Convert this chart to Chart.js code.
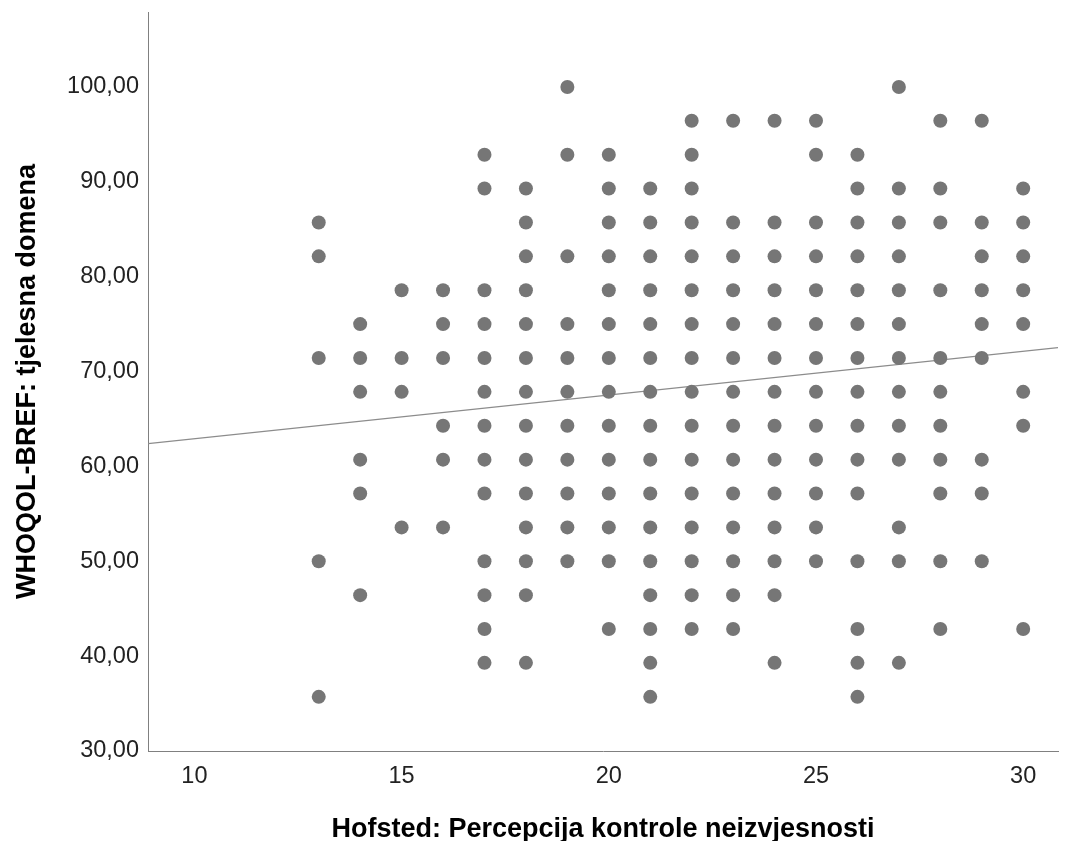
<!DOCTYPE html>
<html>
<head>
<meta charset="utf-8">
<script src="https://cdn.jsdelivr.net/npm/chart.js@4.4.1/dist/chart.umd.min.js"></script>
<style>
  html, body { margin: 0; padding: 0; background: #fff; }
  #wrap { width: 1065px; height: 841px; }
</style>
</head>
<body>
<div id="wrap"><canvas id="scatterChart" width="1065" height="841"></canvas></div>
<script>
// Hofsted score on x, WHOQOL-BREF (tjelesna domena) values seen at each x
const xValues = [13, 14, 15, 16, 17, 18, 19, 20, 21, 22, 23, 24, 25, 26, 27, 28, 29, 30];

const yAt13 = [85.71, 82.14, 71.43, 50, 35.71];
const yAt14 = [75, 71.43, 67.86, 60.71, 57.14, 46.43];
const yAt15 = [78.57, 71.43, 67.86, 53.57];
const yAt16 = [78.57, 75, 71.43, 64.29, 60.71, 53.57];
const yAt17 = [92.86, 89.29, 78.57, 75, 71.43, 67.86, 64.29, 60.71, 57.14, 50, 46.43, 42.86, 39.29];
const yAt18 = [89.29, 85.71, 82.14, 78.57, 75, 71.43, 67.86, 64.29, 60.71, 57.14, 53.57, 50, 46.43, 39.29];
const yAt19 = [100, 92.86, 82.14, 75, 71.43, 67.86, 64.29, 60.71, 57.14, 53.57, 50];
const yAt20 = [92.86, 89.29, 85.71, 82.14, 78.57, 75, 71.43, 67.86, 64.29, 60.71, 57.14, 53.57, 50, 42.86];
const yAt21 = [89.29, 85.71, 82.14, 78.57, 75, 71.43, 67.86, 64.29, 60.71, 57.14, 53.57, 50, 46.43, 42.86, 39.29, 35.71];
const yAt22 = [96.43, 92.86, 89.29, 85.71, 82.14, 78.57, 75, 71.43, 67.86, 64.29, 60.71, 57.14, 53.57, 50, 46.43, 42.86];
const yAt23 = [96.43, 85.71, 82.14, 78.57, 75, 71.43, 67.86, 64.29, 60.71, 57.14, 53.57, 50, 46.43, 42.86];
const yAt24 = [96.43, 85.71, 82.14, 78.57, 75, 71.43, 67.86, 64.29, 60.71, 57.14, 53.57, 50, 46.43, 39.29];
const yAt25 = [96.43, 92.86, 85.71, 82.14, 78.57, 75, 71.43, 67.86, 64.29, 60.71, 57.14, 53.57, 50];
const yAt26 = [92.86, 89.29, 85.71, 82.14, 78.57, 75, 71.43, 67.86, 64.29, 60.71, 57.14, 50, 42.86, 39.29, 35.71];
const yAt27 = [100, 89.29, 85.71, 82.14, 78.57, 75, 71.43, 67.86, 64.29, 60.71, 53.57, 50, 39.29];
const yAt28 = [96.43, 89.29, 85.71, 78.57, 71.43, 67.86, 64.29, 60.71, 57.14, 50, 42.86];
const yAt29 = [96.43, 85.71, 82.14, 78.57, 75, 71.43, 60.71, 57.14, 50];
const yAt30 = [89.29, 85.71, 82.14, 78.57, 75, 67.86, 64.29, 42.86];

const yColumns = [yAt13, yAt14, yAt15, yAt16, yAt17, yAt18, yAt19, yAt20, yAt21,
                  yAt22, yAt23, yAt24, yAt25, yAt26, yAt27, yAt28, yAt29, yAt30];

const xTicks = [10, 15, 20, 25, 30];
const yTicks = [30, 40, 50, 60, 70, 80, 90, 100];

// axis range and fit line
const xMin = 8.88, xMax = 30.84;
const yMin = 30, yMax = 107.9;
const fitIntercept = 58.3;
const fitSlope = 0.461;

const points = [];
xValues.forEach((x, i) => {
    yColumns[i].forEach(y => points.push({ x: x, y: y }));
});

const fitLine = [xMin, xMax].map(x => ({ x: x, y: fitIntercept + fitSlope * x }));

const tickFont = { family: "'Liberation Sans', Arial", size: 23.5 };
const titleFont = { family: "'Liberation Sans', Arial", size: 27, weight: 'bold', lineHeight: 1.2 };

new Chart(document.getElementById("scatterChart"), {
    type: "scatter",
    data: {
        datasets: [{
            label: "Tjelesna domena",
            data: points,
            backgroundColor: "#767676",
            borderWidth: 0,
            pointRadius: 7,
            pointHoverRadius: 7
        }, {
            type: "line",
            label: "Fit",
            data: fitLine,
            borderColor: "#8c8c8c",
            borderWidth: 1.2,
            pointRadius: 0,
            fill: false
        }]
    },
    options: {
        responsive: false,
        animation: false,
        layout: { padding: { top: 12, right: 0, bottom: 0, left: 0 } },
        plugins: {
            legend: { display: false },
            tooltip: { enabled: false }
        },
        scales: {
            x: {
                type: "linear",
                min: xMin,
                max: xMax,
                afterBuildTicks: (scale) => { scale.ticks = xTicks.map(v => ({ value: v })); },
                afterFit: (scale) => {
                    scale.height = 90;
                    scale.paddingLeft = 0;
                    scale.paddingRight = 0;
                },
                grid: { display: false, drawTicks: false },
                border: { display: true, color: "#808080", width: 1 },
                ticks: {
                    color: "#222",
                    font: tickFont,
                    padding: 11,
                    maxRotation: 0,
                    callback: (v) => String(v)
                },
                title: {
                    display: true,
                    text: "Hofsted: Percepcija kontrole neizvjesnosti",
                    color: "#000",
                    font: titleFont,
                    padding: { top: 0, bottom: -5 }
                }
            },
            y: {
                type: "linear",
                min: yMin,
                max: yMax,
                afterBuildTicks: (scale) => { scale.ticks = yTicks.map(v => ({ value: v })); },
                afterFit: (scale) => {
                    scale.width = 148;
                    scale.paddingTop = 0;
                    scale.paddingBottom = 0;
                },
                grid: { display: false, drawTicks: false },
                border: { display: true, color: "#808080", width: 1 },
                ticks: {
                    color: "#222",
                    font: tickFont,
                    padding: 9,
                    callback: (v) => v.toFixed(2).replace(".", ",")
                },
                title: {
                    display: true,
                    text: "WHOQOL-BREF: tjelesna domena",
                    color: "#000",
                    font: titleFont,
                    padding: { top: 11, bottom: 0 }
                }
            }
        }
    }
});
</script>
</body>
</html>
